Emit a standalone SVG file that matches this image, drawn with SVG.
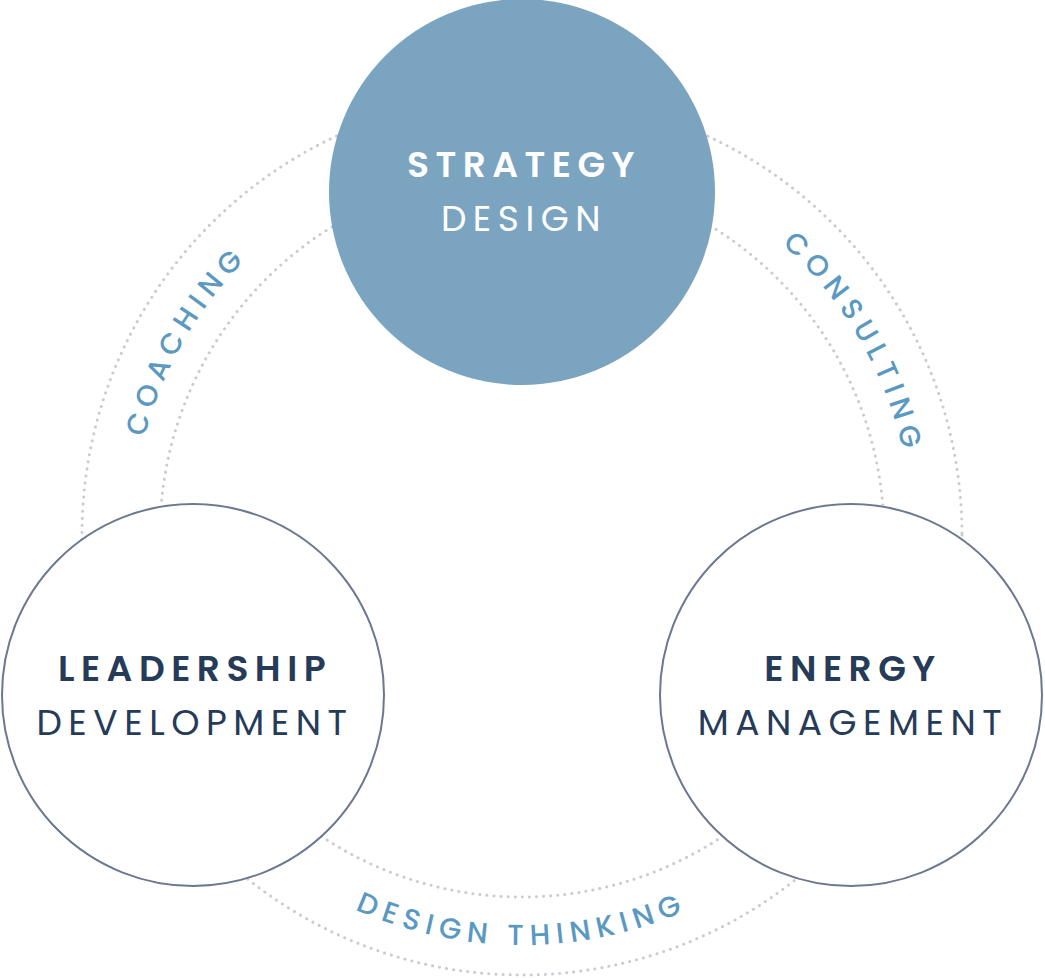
<svg xmlns="http://www.w3.org/2000/svg" width="1045" height="978" viewBox="0 0 1045 978">
<style>
.ring{fill:none;stroke:#c9ccd3;stroke-width:3;stroke-dasharray:0.1 7;stroke-linecap:round}
.node{stroke:#6b7890;stroke-width:2;fill:#fff}
.t{font-family:Poppins,"Noto Sans","Open Sans",sans-serif;font-size:36px;text-anchor:middle;letter-spacing:6.5px;fill:#263b58}
.b{font-weight:600}
.lbl{font-family:Poppins,"Noto Sans","Open Sans",sans-serif;font-size:29px;letter-spacing:6.5px;fill:#5b99c1;font-weight:500}
</style>
<defs>
<path id="pc" d="M184.3,730 A390,390 0 0 1 522,145"/>
<path id="pn" d="M522,145 A390,390 0 0 1 859.7,730"/>
<path id="pd" d="M166.9,740 A410,410 0 0 0 877.1,740"/>
</defs>
<g id="connectors">
<circle class="ring" cx="522" cy="535" r="440"/>
<circle class="ring" cx="522" cy="535" r="362"/>
<text class="lbl"><textPath href="#pc" startOffset="50%" text-anchor="middle">COACHING</textPath></text>
<text class="lbl"><textPath href="#pn" startOffset="50%" text-anchor="middle">CONSULTING</textPath></text>
<text class="lbl"><textPath href="#pd" startOffset="50%" text-anchor="middle">DESIGN THINKING</textPath></text>
</g>
<g id="strategy">
<circle cx="522" cy="192" r="193" fill="#7aa4bf"/>
<text class="t b" x="524" y="177" style="fill:#fff">STRATEGY</text>
<text class="t" x="524" y="231" style="fill:#fff">DESIGN</text>
</g>
<g id="leadership">
<circle class="node" cx="193" cy="695" r="191"/>
<text class="t b" x="195" y="681">LEADERSHIP</text>
<text class="t" x="195" y="735">DEVELOPMENT</text>
</g>
<g id="energy">
<circle class="node" cx="851" cy="695" r="191"/>
<text class="t b" x="853" y="681">ENERGY</text>
<text class="t" x="853" y="735">MANAGEMENT</text>
</g>
</svg>
